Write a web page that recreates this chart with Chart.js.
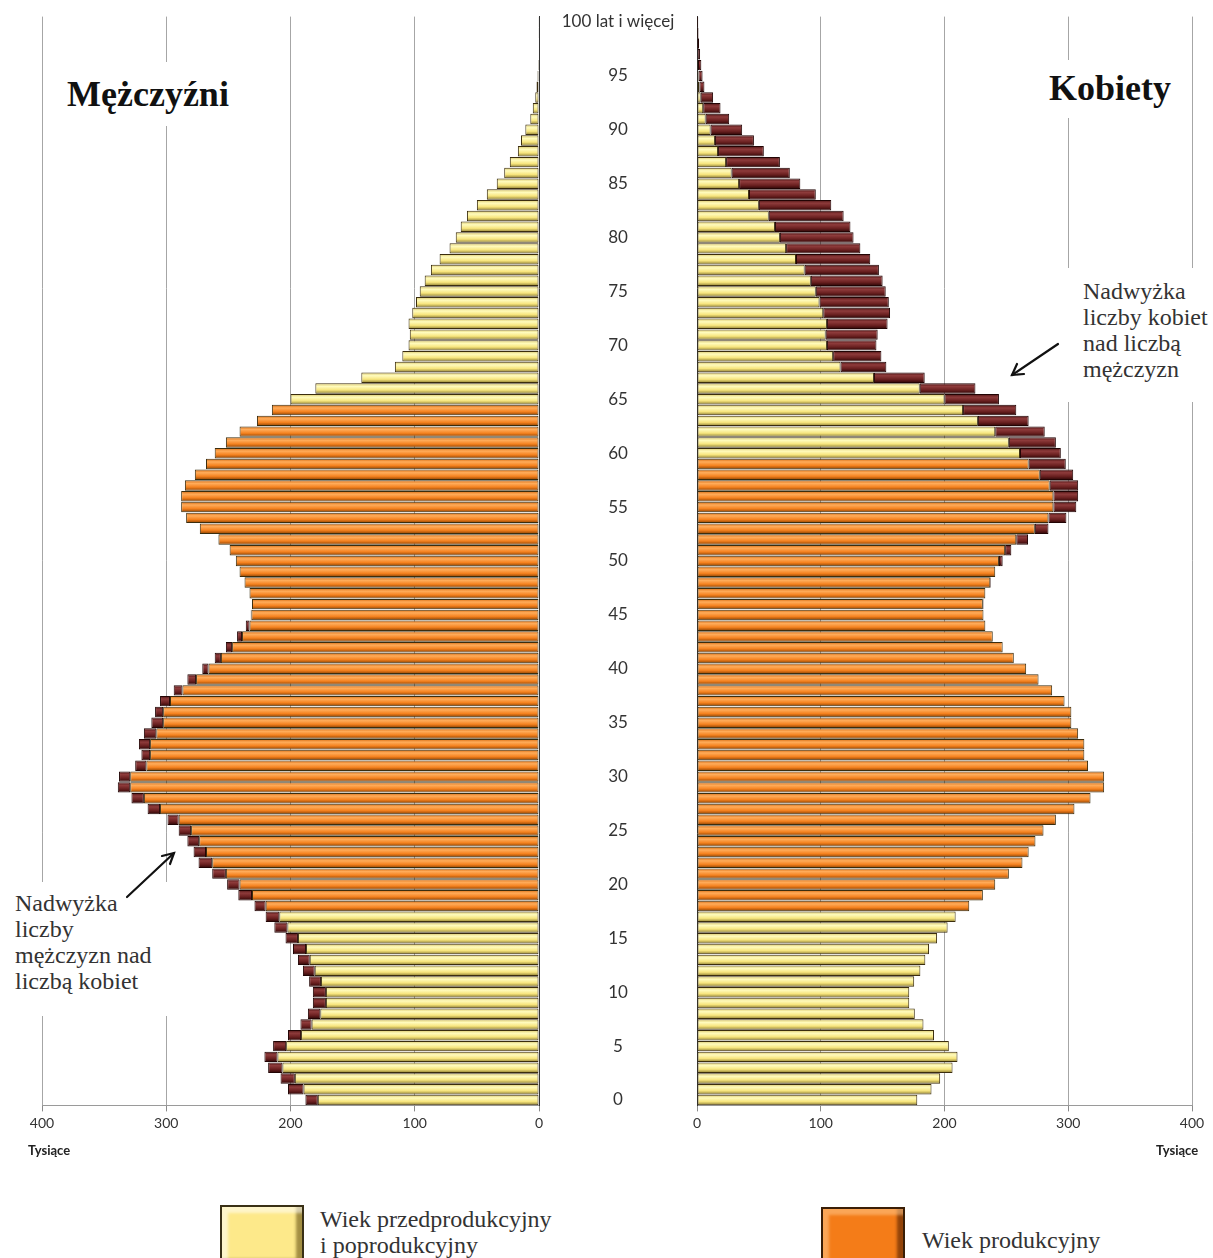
<!DOCTYPE html>
<html lang="pl">
<head>
<meta charset="utf-8">
<title>Piramida wieku</title>
<script src="https://cdn.jsdelivr.net/npm/chart.js@4.4.1/dist/chart.umd.min.js"></script>
<style>
  html, body { margin: 0; padding: 0; background: #fff; }
  #page { position: relative; width: 1213px; height: 1258px; overflow: hidden;
          font-family: "Liberation Serif", "Times New Roman", serif; color: #2e2e2e; }
  canvas { position: absolute; top: 0; }
  #men { left: 0; }
  #women { left: 539px; }
  .box { position: absolute; background: #fff; }
  .title { position: absolute; font-weight: bold; font-size: 36px; line-height: 36px; color: #111; white-space: nowrap; }
  .note { position: absolute; font-size: 24px; line-height: 26px; color: #333; white-space: nowrap; }
  .unit { position: absolute; font-family: Lato, sans-serif; font-weight: bold; font-size: 13px; color: #222; }
  .swatch { position: absolute; width: 80px; height: 58px; border: 2px solid #3a3016; }
  #sw1 { left: 220px; top: 1205px; background: #fde98a;
         box-shadow: inset 6px 6px 3px rgba(255,255,255,0.55), inset -6px -6px 3px rgba(90,70,10,0.55); }
  #sw2 { left: 821px; top: 1207px; background: #f47c18; border-color: #3a1e06;
         box-shadow: inset 6px 6px 3px rgba(255,200,140,0.55), inset -6px -6px 3px rgba(80,30,0,0.6); }
  svg { position: absolute; left: 0; top: 0; }
</style>
</head>
<body>
<div id="page">
  <canvas id="men" width="560" height="1170"></canvas>
  <canvas id="women" width="674" height="1170"></canvas>

  <!-- białe tła pod napisami (przerywają linie siatki) -->
  <div class="box" style="left:58px;top:62px;width:184px;height:64px"></div>
  <div class="box" style="left:1040px;top:60px;width:145px;height:58px"></div>
  <div class="box" style="left:1062px;top:268px;width:151px;height:134px"></div>
  <div class="box" style="left:0;top:882px;width:174px;height:134px"></div>

  <div class="title" style="left:67px;top:76px">Mężczyźni</div>
  <div class="title" style="left:1049px;top:70px">Kobiety</div>

  <div class="note" style="left:1083px;top:278px">Nadwyżka<br>liczby kobiet<br>nad liczbą<br>mężczyzn</div>
  <div class="note" style="left:15px;top:890px">Nadwyżka<br>liczby<br>mężczyzn nad<br>liczbą kobiet</div>

  <div class="unit" style="left:28px;top:1142px">Tysiące</div>
  <div class="unit" style="left:1156px;top:1142px">Tysiące</div>

  <div class="swatch" id="sw1"></div>
  <div class="note" style="left:320px;top:1206px">Wiek przedprodukcyjny<br>i poprodukcyjny</div>
  <div class="swatch" id="sw2"></div>
  <div class="note" style="left:922px;top:1227px">Wiek produkcyjny</div>

  <svg width="1213" height="1258">
    <g stroke="#111" stroke-width="2.2" fill="none" stroke-linecap="round">
      <line x1="127" y1="897" x2="174" y2="853"/>
      <polyline points="162,856 174,853 170,864"/>
      <line x1="1058" y1="344" x2="1012" y2="375"/>
      <polyline points="1024,374 1012,375 1017,364"/>
    </g>
  </svg>
</div>

<script>
// wiek (kategorie)
const ages = [0,1,2,3,4,5,6,7,8,9,10,11,12,13,14,15,16,17,18,19,
  20,21,22,23,24,25,26,27,28,29,30,31,32,33,34,35,36,37,38,39,
  40,41,42,43,44,45,46,47,48,49,50,51,52,53,54,55,56,57,58,59,
  60,61,62,63,64,65,66,67,68,69,70,71,72,73,74,75,76,77,78,79,
  80,81,82,83,84,85,86,87,88,89,90,91,92,93,94,95,96,97,98,99,
  "100 lat i więcej"];

// liczba mężczyzn wg wieku (tys.)
const men = [188,202,208,218,221,214,202,192,186,182,
  182,185,190,194,198,204,213,220,229,242,
  251,263,274,278,283,290,299,315,328,339,
  338,325,320,322,318,312,309,305,294,283,
  271,261,252,243,236,232,231,233,237,241,
  244,249,258,273,284,288,288,285,277,268,
  261,252,241,227,215,200,180,143,116,110,
  105,104,105,102,99,96,92,87,80,72,
  67,63,58,50,42,34,28,23.5,17,14.5,
  11,7,5,3,2,1.2,0.8,0.5,0.3,0.2,
  0.2];

// liczba kobiet wg wieku (tys.)
const women = [178,189.5,196.5,206.5,210.5,203.5,191.5,183,176,171.5,
  171.5,175.5,180.5,184.5,187.5,194,202.5,209,220,231,
  241,252,263,268,273.5,280,290,305,318,329,
  329,316,313,313,308,302.5,302.5,297,287,276,
  266,256,247,239,233,231.5,231.5,233,237.5,241,
  247,254,267.5,284,298.5,306.5,308,308,304,298,
  294,290,281,268,258,244,225,184,153,149,
  145,146,154,156,155,152.5,150,147,140,132,
  126.5,124,118.5,108.5,96,83.5,75,67,54,46,
  36.5,26,19,13,6,4.5,3.5,2.5,1.7,1.2,
  1];

// wiek produkcyjny: mężczyźni 18-64, kobiety 18-59
const menWorking = [18, 64];
const womenWorking = [18, 59];

const valueTicks = [0, 100, 200, 300, 400];

// część wspólna i nadwyżki
const common = men.map((m, i) => Math.min(m, women[i]));
const menExtra = men.map((m, i) => Math.max(0, m - women[i]));
const womenExtra = women.map((w, i) => Math.max(0, w - men[i]));

const BAR_PCT = 0.97;
const PALETTE = {
  yellow: ['#d8c566', '#fffbbd', '#f7e57d', '#8a7a2e'],
  orange: ['#d66a10', '#ffac5a', '#f5821f', '#8c4000'],
  brown:  ['#4d1313', '#8e3b3b', '#6a2020', '#2c0505']
};

Chart.defaults.font.family = 'Lato, sans-serif';
Chart.defaults.font.size = 14;
Chart.defaults.color = '#333';

// gradient "walca" dla każdego słupka
function barFill(ctx, stops) {
  const chart = ctx.chart;
  const y = chart.scales.y;
  if (!chart.chartArea || !y) return stops[2];
  const c = y.getPixelForValue(ctx.dataIndex);
  const h = (y.height / ages.length) * BAR_PCT / 2;
  const g = chart.ctx.createLinearGradient(0, c - h, 0, c + h);
  g.addColorStop(0, stops[0]);
  g.addColorStop(0.3, stops[1]);
  g.addColorStop(0.65, stops[2]);
  g.addColorStop(1, stops[3]);
  return g;
}

function inRange(i, r) { return i >= r[0] && i <= r[1]; }

// szerokość etykiet wieku - do wyśrodkowania ich między wykresami
const AGE_FONT = 17;
const mctx = document.createElement('canvas').getContext('2d');
mctx.font = AGE_FONT + 'px Lato';
const widest = mctx.measureText(ages[ages.length - 1]).width;
const MID = 158;

function makeChart(id, extra, working, left) {
  return new Chart(document.getElementById(id), {
    type: 'bar',
    data: {
      labels: ages,
      datasets: [
        {
          label: 'wspólne',
          data: common,
          backgroundColor: c => barFill(c, inRange(c.dataIndex, working) ? PALETTE.orange : PALETTE.yellow),
          borderColor: '#3b2d0e',
          borderWidth: c => (c.raw > 0 ? 1 : 0),
          borderSkipped: false
        },
        {
          label: 'nadwyżka',
          data: extra,
          backgroundColor: c => barFill(c, PALETTE.brown),
          borderColor: '#220404',
          borderWidth: c => (c.raw > 0 ? 1 : 0),
          borderSkipped: false
        }
      ]
    },
    options: {
      indexAxis: 'y',
      responsive: false,
      animation: false,
      devicePixelRatio: 1,
      datasets: { bar: { barPercentage: BAR_PCT, categoryPercentage: 1 } },
      layout: { padding: { left: left ? 42 : 0, right: 21, top: 16.6, bottom: 0 } },
      plugins: { legend: { display: false }, tooltip: { enabled: false } },
      scales: {
        x: {
          stacked: true,
          reverse: left,
          min: 0,
          max: 400,
          afterBuildTicks: s => { s.ticks = valueTicks.map(v => ({ value: v })); },
          ticks: { padding: 4, color: '#333' },
          grid: {
            color: c => (c.tick && c.tick.value === 0 ? 'rgba(0,0,0,0)' : '#a6a6a6'),
            tickColor: '#8a8a8a',
            tickLength: 6
          },
          border: { color: '#9a9a9a' },
          afterFit: s => { s.height = 64.6; }
        },
        y: {
          stacked: true,
          reverse: true,
          position: left ? 'right' : 'left',
          grid: { display: false, drawTicks: false },
          border: { display: true, color: '#333', dash: [2, 2] },
          ticks: left ? { display: false } : {
            autoSkip: false,
            crossAlign: 'center',
            padding: MID / 2 - widest / 2,
            color: '#333',
            font: { size: AGE_FONT },
            callback: (v, i) => (i % 5 === 0 ? ages[i] : null)
          },
          afterFit: s => {
            s.width = left ? 0 : MID;
            s.paddingTop = 0;
            s.paddingBottom = 0;
          }
        }
      }
    }
  });
}

makeChart('men', menExtra, menWorking, true);
makeChart('women', womenExtra, womenWorking, false);
</script>
</body>
</html>
